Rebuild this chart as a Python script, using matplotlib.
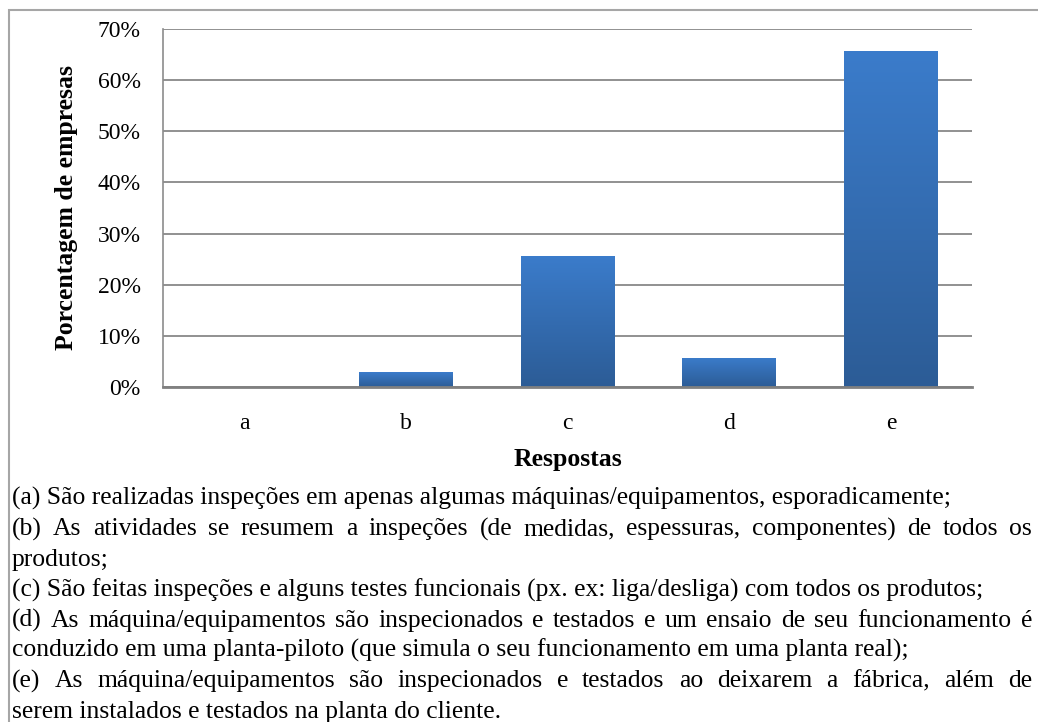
import numpy as np
import matplotlib
matplotlib.use("Agg")
import matplotlib.pyplot as plt
from matplotlib.patches import Rectangle
from matplotlib.colors import LinearSegmentedColormap
from matplotlib.ticker import PercentFormatter

# data (share of companies per answer)
categories = ["a", "b", "c", "d", "e"]
values = [0.0, 0.0286, 0.257, 0.0571, 0.657]
yticks = [0.0, 0.1, 0.2, 0.3, 0.4, 0.5, 0.6, 0.7]

# caption lines; True = justified to full width
caption = [
  ("(a) São realizadas inspeções em apenas algumas máquinas/equipamentos, esporadicamente;", False),
  ("(b) As atividades se resumem a inspeções (de medidas, espessuras, componentes) de todos os", True),
  ("produtos;", False),
  ("(c) São feitas inspeções e alguns testes funcionais (px. ex: liga/desliga) com todos os produtos;", False),
  ("(d) As máquina/equipamentos são inspecionados e testados e um ensaio de seu funcionamento é", True),
  ("conduzido em uma planta-piloto (que simula o seu funcionamento em uma planta real);", False),
  ("(e) As máquina/equipamentos são inspecionados e testados ao deixarem a fábrica, além de", True),
  ("serem instalados e testados na planta do cliente.", False),
]

plt.rcParams["font.family"] = ["Liberation Serif", "DejaVu Serif"]

W, H = 1038, 722
fig = plt.figure(figsize=(W / 100, H / 100), dpi=100)
ax = fig.add_axes([163 / W, 1 - 387 / H, 809 / W, 358 / H])

x = np.arange(len(categories))
bars = ax.bar(x, values, width=0.58, color="none", edgecolor="none", zorder=3)

# vertical gradient inside each bar
cmap = LinearSegmentedColormap.from_list("blu", ["#2c5c96", "#3b7ccb"])
grad = np.linspace(0, 1, 256).reshape(-1, 1)
for b in bars:
  if b.get_height() <= 0:
    continue
  x0, w, h = b.get_x(), b.get_width(), b.get_height()
  im = ax.imshow(grad, cmap=cmap, origin="lower", aspect="auto",
                 extent=[x0, x0 + w, 0, h], zorder=3)
  im.set_clip_path(b)

ax.set_xlim(-0.5, len(categories) - 0.5)
ax.set_ylim(0, 0.7)
ax.set_yticks(yticks)
ax.yaxis.set_major_formatter(PercentFormatter(1.0, decimals=0))
ax.set_xticks(x)
ax.set_xticklabels(categories)
ax.tick_params(axis="both", length=0, labelsize=17)
ax.tick_params(axis="y", pad=16)
ax.tick_params(axis="x", pad=19)
ax.grid(axis="y", color="#909090", linewidth=1.4, zorder=0)
ax.set_axisbelow(True)
for s in ["top", "right"]:
  ax.spines[s].set_visible(False)
ax.spines["left"].set_color("#8c8c8c")
ax.spines["left"].set_linewidth(1.2)
ax.spines["bottom"].set_color("#808080")
ax.spines["bottom"].set_linewidth(2)
ax.spines["bottom"].set_zorder(4)

ax.set_xlabel("Respostas", fontsize=18.5, fontweight="bold", labelpad=10)
ax.set_ylabel("Porcentagem de empresas", fontsize=18.5, fontweight="bold", labelpad=14)

# outer frame (open at right and bottom in the crop)
fig.add_artist(Rectangle((9 / W, -0.1), 1.2, 1 - 10 / H + 0.1, transform=fig.transFigure,
                         fill=False, edgecolor="#a6a6a6", linewidth=1.5))

# caption text
fig.canvas.draw()
renderer = fig.canvas.get_renderer()
left_px, right_px = 12, 1032
fs = 16.5
probe = fig.text(0, 0, caption[0][0], fontsize=fs)
wpx = probe.get_window_extent(renderer).width
probe.remove()
fs = fs * 939 / wpx

base0, step = 505, 30.4
for i, (line, just) in enumerate(caption):
  ypx = base0 + step * i
  yf = 1 - ypx / H
  if not just:
    fig.text(left_px / W, yf, line, fontsize=fs, va="baseline", ha="left")
    continue
  words = line.split(" ")
  arts = [fig.text(0, yf, w_, fontsize=fs, va="baseline", ha="left") for w_ in words]
  widths = [a.get_window_extent(renderer).width for a in arts]
  gap = (right_px - left_px - sum(widths)) / (len(words) - 1)
  xp = left_px
  for a, wd in zip(arts, widths):
    a.set_x(xp / W)
    xp += wd + gap

fig.savefig("out.png", dpi=100, facecolor="white")
